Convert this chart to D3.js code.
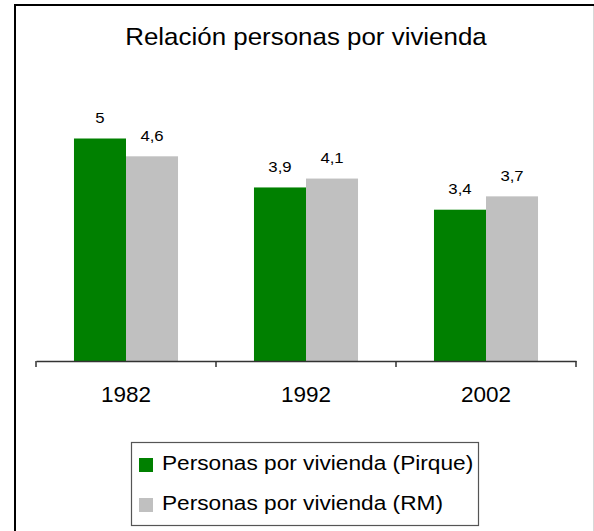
<!DOCTYPE html>
<html>
<head>
<meta charset="utf-8">
<script src="https://cdn.jsdelivr.net/npm/d3@7"></script>
<style>
  body { margin: 0; background: #fff; }
  svg { display: block; font-family: "Liberation Sans", Arial, sans-serif; }
</style>
</head>
<body>
<script>
// data
const years = ["1982", "1992", "2002"];
const seriesNames = ["Personas por vivienda (Pirque)", "Personas por vivienda (RM)"];
const pirque = [5, 3.9, 3.4];
const rm = [4.6, 4.1, 3.7];
const seriesColors = ["#008000", "#c0c0c0"];

const W = 594, H = 531;
const stretch = 1.08; // the source picture is a bit wider than tall
const svg = d3.select("body").append("svg").attr("width", W).attr("height", H);

// outer frame (bottom cut off in the picture)
svg.append("line").attr("x1", 15).attr("y1", 5).attr("x2", W).attr("y2", 5)
  .attr("stroke", "#000").attr("stroke-width", 2);
svg.append("line").attr("x1", 15).attr("y1", 4).attr("x2", 15).attr("y2", H)
  .attr("stroke", "#000").attr("stroke-width", 2);
svg.append("line").attr("x1", 593.5).attr("y1", 6).attr("x2", 593.5).attr("y2", H)
  .attr("stroke", "#d8d8d8").attr("stroke-width", 1);

svg.append("text")
  .attr("transform", `translate(306,45) scale(${stretch},1)`)
  .attr("text-anchor", "middle")
  .attr("font-size", 24)
  .attr("fill", "#000")
  .text("Relación personas por vivienda");

const x0 = d3.scaleBand().domain(years).range([36, 576]).padding(0);
const x1 = d3.scaleBand().domain(seriesNames).range([0, x0.bandwidth()]).paddingInner(0).paddingOuter(0.73);
const y = d3.scaleLinear().domain([0, 6]).range([361, 94]);

const rows = years.map((yr, i) => ({
  year: yr,
  vals: [
    { s: seriesNames[0], v: pirque[i], c: seriesColors[0] },
    { s: seriesNames[1], v: rm[i], c: seriesColors[1] }
  ]
}));

const fmt = v => String(v).replace(".", ",");

const groups = svg.append("g").selectAll("g").data(rows).join("g")
  .attr("transform", d => `translate(${x0(d.year)},0)`);

groups.selectAll("rect").data(d => d.vals).join("rect")
  .attr("x", d => x1(d.s))
  .attr("y", d => y(d.v))
  .attr("width", x1.bandwidth())
  .attr("height", d => y(0) - y(d.v))
  .attr("fill", d => d.c);

groups.selectAll("text").data(d => d.vals).join("text")
  .attr("transform", d => `translate(${x1(d.s) + x1.bandwidth() / 2},${y(d.v) - 15.5}) scale(${stretch},1)`)
  .attr("text-anchor", "middle")
  .attr("font-size", 15.5)
  .attr("fill", "#000")
  .text(d => fmt(d.v));

// category axis
const axis = svg.append("g").attr("transform", `translate(0,${y(0)})`)
  .call(d3.axisBottom(x0).tickSize(0).tickPadding(25));
axis.select(".domain").attr("stroke", "#333").attr("stroke-width", 1.5);
axis.selectAll("text").attr("font-size", 22.5).attr("fill", "#000")
  .attr("font-family", "Liberation Sans, Arial, sans-serif");

// ticks between categories
const bounds = years.map(d => x0(d)).concat([x0(years[years.length - 1]) + x0.bandwidth()]);
axis.selectAll(".sep").data(bounds).join("line")
  .attr("class", "sep")
  .attr("x1", d => d).attr("x2", d => d)
  .attr("y1", 0).attr("y2", 6)
  .attr("stroke", "#333").attr("stroke-width", 1.5);

// legend
const lg = svg.append("g");
lg.append("rect").attr("x", 131.5).attr("y", 442.5).attr("width", 347).attr("height", 83)
  .attr("fill", "#fff").attr("stroke", "#555").attr("stroke-width", 1.2);
const items = lg.selectAll("g.item").data(seriesNames).join("g").attr("class", "item")
  .attr("transform", (d, i) => `translate(139,${458 + i * 40})`);
items.append("rect").attr("width", 14).attr("height", 14)
  .attr("fill", (d, i) => seriesColors[i]);
items.append("text")
  .attr("transform", `translate(23,12) scale(${stretch},1)`)
  .attr("font-size", 21).attr("fill", "#000")
  .text(d => d);
</script>
</body>
</html>
